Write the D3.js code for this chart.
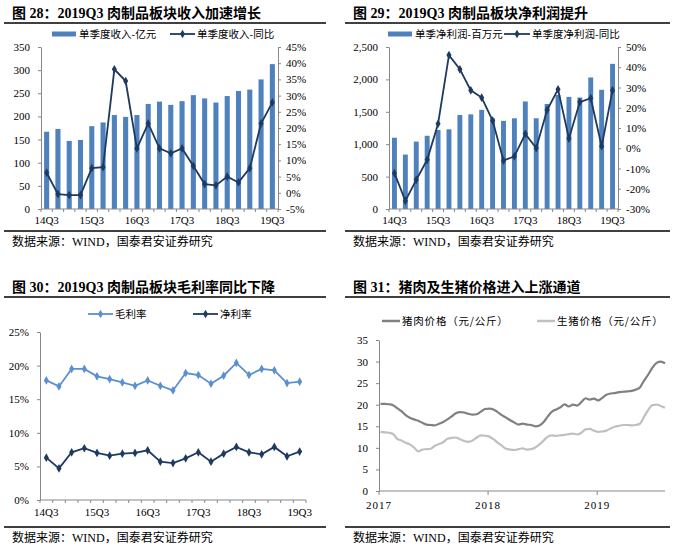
<!DOCTYPE html>
<html><head><meta charset="utf-8">
<script src="https://cdn.jsdelivr.net/npm/d3@7"></script>
<style>
body{margin:0;background:#fff;}
svg{display:block;}
text{font-family:"Liberation Serif","Noto Sans CJK SC",serif;fill:#000;}
.cjk{font-family:"Noto Sans CJK SC",sans-serif;}
</style></head><body>
<svg id="c" width="676" height="555"></svg>
<script>
// ---------- data ----------
const quarters = ["14Q3","14Q4","15Q1","15Q2","15Q3","15Q4","16Q1","16Q2","16Q3","16Q4","17Q1","17Q2","17Q3","17Q4","18Q1","18Q2","18Q3","18Q4","19Q1","19Q2","19Q3"];
const quarterLabels = ["14Q3","15Q3","16Q3","17Q3","18Q3","19Q3"];

// Fig 28
const revenue = [167,173,147,149,179,187,203,199,203,227,232,225,233,246,239,230,244,255,258,280,313];
const revenueYoY = [6.2,-0.4,-0.7,-0.7,7.6,7.9,38.1,34.5,13.7,21.4,13.7,12.2,13.7,8.3,2.7,2.3,5.0,3.2,7.6,21.4,27.9];
const revTicks = [0,50,100,150,200,250,300,350];
const revPctTicks = [-5,0,5,10,15,20,25,30,35,40,45];

// Fig 29
const profit = [1100,840,1040,1130,1220,1230,1450,1460,1530,1400,1360,1400,1660,1400,1620,1760,1730,1720,2030,1840,2240];
const profitYoY = [-12.3,-26,-15.6,-5.7,12.1,46,39,28.6,25,13.7,-6.1,-4,7.1,0.1,18.9,29.1,4.8,22.8,24.7,1,28.6];
const profitTicks = [0,500,1000,1500,2000,2500];
const profitPctTicks = [-30,-20,-10,0,10,20,30,40,50];

// Fig 30
const grossMargin = [17.8,16.9,19.5,19.5,18.4,18.0,17.5,17.0,17.8,17.0,16.3,18.9,18.6,17.3,18.5,20.4,18.6,19.5,19.3,17.4,17.6];
const netMargin = [6.3,4.7,7.1,7.7,7.0,6.6,6.9,7.0,7.4,5.7,5.5,6.2,7.1,5.7,6.9,7.9,7.1,6.8,7.9,6.5,7.2];
const marginTicks = [0,5,10,15,20,25];

// Fig 31 (bi-weekly samples from 2017-01-06)
const priceStart = "2017-01-06";
const porkPrice = [20.2,20.2,20.1,19.9,19.2,18.5,17.6,17.0,16.6,16.3,15.8,15.4,15.3,15.2,15.6,16.0,16.6,17.3,18.0,18.3,18.2,17.9,17.7,17.8,18.4,19.0,19.1,18.9,18.3,17.6,17.0,16.4,15.9,15.4,15.6,15.4,15.3,15.0,15.2,16.0,17.3,18.4,18.9,19.4,20.1,19.6,20.0,19.8,20.6,21.5,21.2,21.4,21.0,21.6,22.3,22.6,22.7,22.9,23.0,23.1,23.2,23.5,24.0,25.6,27.0,28.6,29.7,30.0,29.6];
const hogPrice = [13.7,13.6,13.5,13.2,12.1,11.7,11.2,10.8,10.1,9.2,9.6,9.7,9.8,10.5,10.9,11.3,12.1,12.3,12.4,12.0,11.6,11.4,11.7,12.4,12.9,12.8,12.6,12.0,11.2,10.5,9.8,9.6,9.5,9.7,9.9,9.6,9.7,10.1,10.8,11.7,12.6,12.9,12.8,12.9,13.0,13.2,13.3,13.1,13.5,14.3,14.4,14.0,13.7,13.8,14.0,14.5,14.9,15.1,15.3,15.3,15.2,15.3,15.6,17.2,18.8,19.9,20.0,19.7,19.3];
const priceTicks = [0,5,10,15,20,25,30,35];
const yearLabels = ["2017","2018","2019"];

// ---------- styles ----------
const BAR = "#4f81bd", NAVY = "#1f3a5f", LIGHTBLUE = "#5b8fd2";
const svg = d3.select("#c");
const fmtComma = d3.format(",");

function header(x0, x1, title, yTitle, ySrcLine) {
  svg.append("text").attr("x", x0 + 8).attr("y", yTitle)
    .attr("font-size", 14).attr("font-weight", "bold").text(title);
  svg.append("line").attr("x1", x0).attr("x2", x1).attr("y1", yTitle + 5).attr("y2", yTitle + 5)
    .attr("stroke", "#000").attr("stroke-width", 1.3);
  svg.append("line").attr("x1", x0).attr("x2", x1).attr("y1", ySrcLine).attr("y2", ySrcLine)
    .attr("stroke", "#000").attr("stroke-width", 1.3);
  svg.append("text").attr("x", x0 + 8).attr("y", ySrcLine + 15).attr("font-size", 12)
    .text("数据来源：WIND，国泰君安证券研究");
}

function leftAxis(g, scale, ticks, x, fmt) {
  const a = g.append("g").attr("transform", `translate(${x},0)`)
    .call(d3.axisLeft(scale).tickValues(ticks).tickSize(3).tickSizeOuter(0).tickPadding(8).tickFormat(fmt));
  a.select(".domain").attr("stroke", "#888");
  a.selectAll(".tick line").attr("stroke", "#888");
  a.selectAll("text").attr("font-size", 11).attr("font-family", "Liberation Serif");
  return a;
}
function rightAxis(g, scale, ticks, x, fmt) {
  const a = g.append("g").attr("transform", `translate(${x},0)`)
    .call(d3.axisRight(scale).tickValues(ticks).tickSize(3).tickSizeOuter(0).tickPadding(5).tickFormat(fmt));
  a.select(".domain").attr("stroke", "#888");
  a.selectAll(".tick line").attr("stroke", "#888");
  a.selectAll("text").attr("font-size", 11).attr("font-family", "Liberation Serif");
  return a;
}
function catAxis(g, x, yBase, labelY) {
  const [r0, r1] = x.range();
  g.append("line").attr("x1", r0).attr("x2", r1).attr("y1", yBase).attr("y2", yBase).attr("stroke", "#888");
  const step = x.step();
  g.selectAll(null).data(d3.range(quarters.length + 1)).join("line")
    .attr("x1", i => r0 + i * step).attr("x2", i => r0 + i * step)
    .attr("y1", yBase).attr("y2", yBase + 3).attr("stroke", "#888");
  g.selectAll(null).data(quarterLabels).join("text")
    .attr("x", d => x(d) + x.bandwidth() / 2).attr("y", labelY)
    .attr("text-anchor", "middle").attr("font-size", 11).text(d => d);
}
const diamond = d3.symbol(d3.symbolDiamond, 22);

function lineWithMarkers(g, x, y, values, color) {
  const cx = (d, i) => x(quarters[i]) + x.bandwidth() / 2;
  g.append("path").datum(values)
    .attr("d", d3.line().x(cx).y(d => y(d)))
    .attr("fill", "none").attr("stroke", color).attr("stroke-width", 1.8);
  g.selectAll(null).data(values).join("path")
    .attr("d", diamond)
    .attr("transform", (d, i) => `translate(${cx(d, i)},${y(d)})`)
    .attr("fill", color);
}
function legendBar(g, x, y, label) {
  g.append("rect").attr("x", x).attr("y", y - 2.5).attr("width", 24).attr("height", 5).attr("fill", BAR);
  g.append("text").attr("class", "cjk").attr("x", x + 27).attr("y", y).attr("dy", "0.36em")
    .attr("font-size", 10.5).text(label);
}
function legendLine(g, x, y, label, color, w, marker) {
  g.append("line").attr("x1", x).attr("x2", x + w).attr("y1", y).attr("y2", y)
    .attr("stroke", color).attr("stroke-width", marker ? 1.8 : 2.5);
  if (marker) g.append("path").attr("d", diamond).attr("transform", `translate(${x + w / 2},${y})`).attr("fill", color);
  g.append("text").attr("class", "cjk").attr("x", x + w + 2).attr("y", y).attr("dy", "0.36em")
    .attr("font-size", 10.5).text(label);
}

// ---------- Fig 28 ----------
(function () {
  header(4, 326, "图 28：2019Q3 肉制品板块收入加速增长", 18, 231);
  const g = svg.append("g");
  const x = d3.scaleBand().domain(quarters).range([41, 278]).paddingInner(0.55).paddingOuter(0.275);
  const yL = d3.scaleLinear().domain([0, 350]).range([209, 47]);
  const yR = d3.scaleLinear().domain([-5, 45]).range([209, 47]);
  g.selectAll(null).data(revenue).join("rect")
    .attr("x", (d, i) => x(quarters[i])).attr("width", x.bandwidth())
    .attr("y", d => yL(d)).attr("height", d => yL(0) - yL(d)).attr("fill", BAR);
  leftAxis(g, yL, revTicks, 41, d3.format("d"));
  rightAxis(g, yR, revPctTicks, 278, d => d + "%");
  catAxis(g, x, 209, 224);
  lineWithMarkers(g, x, yR, revenueYoY, NAVY);
  legendBar(g, 52, 34, "单季度收入-亿元");
  legendLine(g, 170, 34, "单季度收入-同比", NAVY, 25, true);
})();

// ---------- Fig 29 ----------
(function () {
  header(345, 670, "图 29：2019Q3 肉制品板块净利润提升", 18, 231);
  const g = svg.append("g");
  const x = d3.scaleBand().domain(quarters).range([389, 618]).paddingInner(0.55).paddingOuter(0.275);
  const yL = d3.scaleLinear().domain([0, 2500]).range([209, 47]);
  const yR = d3.scaleLinear().domain([-30, 50]).range([209, 47]);
  g.selectAll(null).data(profit).join("rect")
    .attr("x", (d, i) => x(quarters[i])).attr("width", x.bandwidth())
    .attr("y", d => yL(d)).attr("height", d => yL(0) - yL(d)).attr("fill", BAR);
  leftAxis(g, yL, profitTicks, 389, fmtComma);
  rightAxis(g, yR, profitPctTicks, 618, d => d + "%");
  catAxis(g, x, 209, 224);
  lineWithMarkers(g, x, yR, profitYoY, NAVY);
  legendBar(g, 388, 34, "单季净利润-百万元");
  legendLine(g, 504, 34, "单季度净利润-同比", NAVY, 26, true);
})();

// ---------- Fig 30 ----------
(function () {
  header(4, 326, "图 30：2019Q3 肉制品板块毛利率同比下降", 292, 527);
  const g = svg.append("g");
  const x = d3.scaleBand().domain(quarters).range([40, 306]);
  const y = d3.scaleLinear().domain([0, 25]).range([500, 332]);
  leftAxis(g, y, marginTicks, 40, d => d + "%");
  catAxis(g, x, 500, 516);
  lineWithMarkers(g, x, y, grossMargin, LIGHTBLUE);
  lineWithMarkers(g, x, y, netMargin, NAVY);
  legendLine(g, 88, 314, "毛利率", LIGHTBLUE, 25, true);
  legendLine(g, 193, 314, "净利率", NAVY, 25, true);
})();

// ---------- Fig 31 ----------
(function () {
  header(345, 670, "图 31：猪肉及生猪价格进入上涨通道", 292, 527);
  const g = svg.append("g");
  const t0 = d3.timeParse("%Y-%m-%d")(priceStart);
  const dates = porkPrice.map((d, i) => d3.timeDay.offset(t0, 14 * i));
  const x = d3.scaleTime().domain([new Date(2017, 0, 1), new Date(2019, 7, 16)]).range([379, 665]);
  const y = d3.scaleLinear().domain([0, 35]).range([491, 340]);
  leftAxis(g, y, priceTicks, 379, d3.format("d"));
  g.append("line").attr("x1", 379).attr("x2", 665).attr("y1", 491).attr("y2", 491).attr("stroke", "#888");
  const years = yearLabels.map(s => new Date(+s, 0, 1));
  g.selectAll(null).data(years).join("line")
    .attr("x1", d => x(d)).attr("x2", d => x(d)).attr("y1", 491).attr("y2", 495).attr("stroke", "#888");
  g.selectAll(null).data(years).join("text")
    .attr("x", d => x(d)).attr("y", 509).attr("text-anchor", "middle").attr("font-size", 11)
    .attr("letter-spacing", 1).text(d => d.getFullYear());
  const line = d3.line().x((d, i) => x(dates[i])).y(d => y(d)).curve(d3.curveMonotoneX);
  g.append("path").datum(hogPrice).attr("d", line).attr("fill", "none").attr("stroke", "#c0c0c0").attr("stroke-width", 2.2);
  g.append("path").datum(porkPrice).attr("d", line).attr("fill", "none").attr("stroke", "#808080").attr("stroke-width", 2.2);
  legendLine(g, 382, 321, "猪肉价格（元/公斤）", "#808080", 18, false);
  legendLine(g, 537, 321, "生猪价格（元/公斤）", "#c0c0c0", 18, false);
  g.selectAll(".cjk").filter(function(){return this.textContent.includes("价格");}).attr("letter-spacing", 0.8);
})();
</script>
</body></html>
